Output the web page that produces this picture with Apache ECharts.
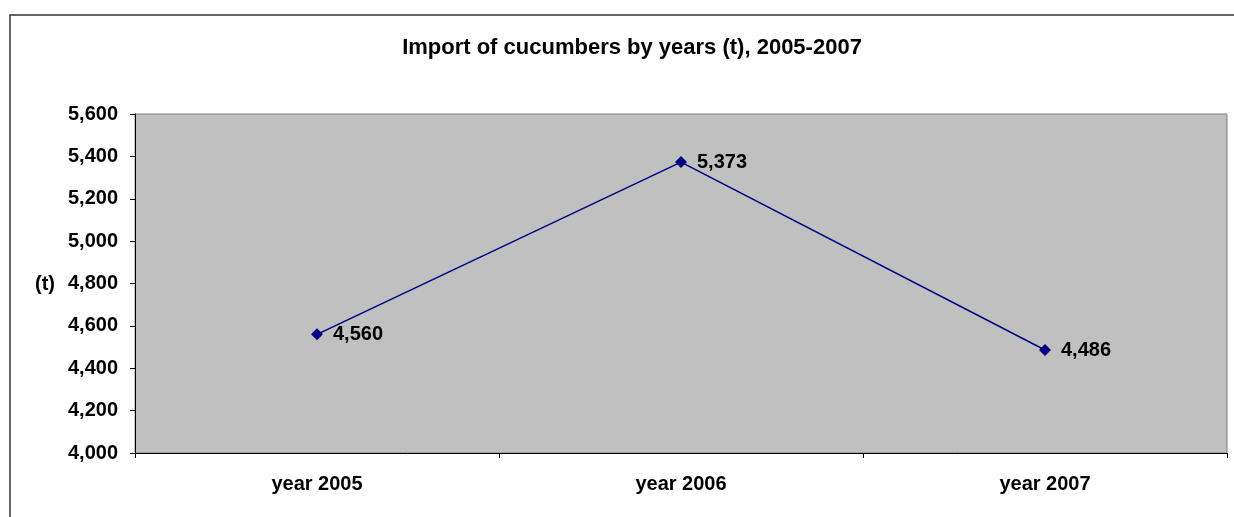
<!DOCTYPE html>
<html>
<head>
<meta charset="utf-8">
<script src="https://cdn.jsdelivr.net/npm/echarts@6/dist/echarts.min.js"></script>
<style>
  html, body { margin: 0; padding: 0; background: #fff; }
  #main { width: 1234px; height: 517px; }
</style>
</head>
<body>
<div id="main"></div>
<script>
var years = ['year 2005', 'year 2006', 'year 2007'];
var imports = [4560, 5373, 4486];

var font = '"Liberation Sans", Arial, sans-serif';

function fmt(v) {
  return String(v).replace(/\B(?=(\d{3})+(?!\d))/g, ',');
}

var myChart = echarts.init(document.getElementById('main'));

var option = {
  animation: false,
  backgroundColor: '#fff',
  title: {
    text: 'Import of cucumbers by years (t), 2005-2007',
    left: 627,
    textAlign: 'center',
    top: 32,
    textStyle: { fontFamily: font, fontSize: 22, fontWeight: 'bold', color: '#000' }
  },
  graphic: [
    {
      type: 'rect',
      shape: { x: 10, y: 15, width: 1240, height: 520 },
      style: { fill: 'none', stroke: '#333', lineWidth: 1.5 },
      silent: true
    },
    {
      type: 'text',
      left: 35,
      top: 274,
      style: { text: '(t)', font: 'bold 20px ' + font, fill: '#000' }
    }
  ],
  grid: {
    left: 135, top: 114, right: 7, bottom: 64,
    show: true,
    backgroundColor: '#C0C0C0',
    borderColor: '#808080',
    borderWidth: 1
  },
  xAxis: {
    type: 'category',
    data: years,
    boundaryGap: true,
    axisLine: { lineStyle: { color: '#000', width: 1 } },
    axisTick: { show: true, length: 5, lineStyle: { color: '#000' } },
    axisLabel: { margin: 21, fontFamily: font, fontSize: 20, fontWeight: 'bold', color: '#000' },
    splitLine: { show: false }
  },
  yAxis: {
    type: 'value',
    min: 4000,
    max: 5600,
    interval: 200,
    axisLine: { show: true, lineStyle: { color: '#000', width: 1 } },
    axisTick: { show: true, length: 5, lineStyle: { color: '#000' } },
    axisLabel: { margin: 17, formatter: fmt, fontFamily: font, fontSize: 20, fontWeight: 'bold', color: '#000' },
    splitLine: { show: false }
  },
  series: [
    {
      type: 'line',
      data: imports,
      symbol: 'diamond',
      symbolSize: 12,
      lineStyle: { color: '#000080', width: 1.5 },
      itemStyle: { color: '#000080' },
      label: {
        show: true,
        position: 'right',
        distance: 10,
        formatter: function (p) { return fmt(p.value); },
        fontFamily: font,
        fontSize: 20,
        fontWeight: 'bold',
        color: '#000'
      }
    }
  ]
};

myChart.setOption(option);
</script>
</body>
</html>
